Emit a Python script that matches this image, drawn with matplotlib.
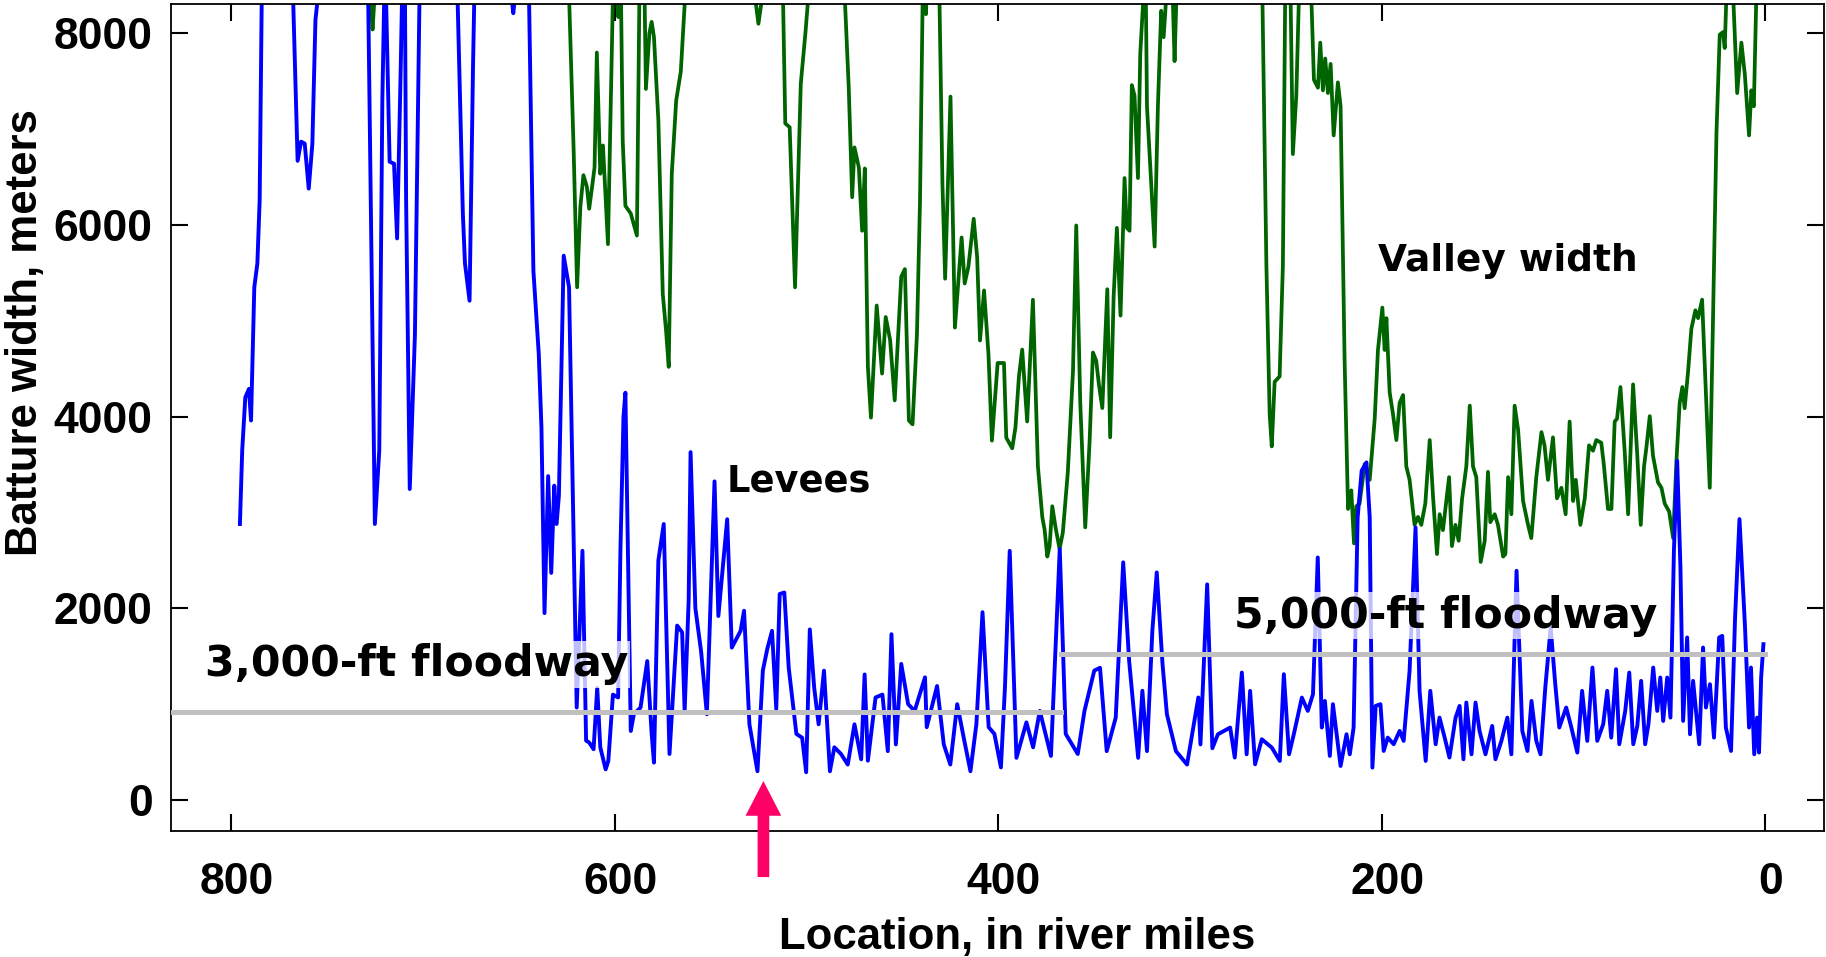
import matplotlib
matplotlib.use("Agg")
import matplotlib.pyplot as plt
from matplotlib.transforms import ScaledTranslation

plt.rcParams["font.family"] = ["Liberation Sans", "DejaVu Sans"]
plt.rcParams["font.weight"] = "bold"

# batture width between levees (blue), river miles vs meters; 9500 = off the top
levee_mile = [795.6, 794.4, 792.8, 790.9, 789.8, 788.1, 786.5, 785.3, 784.2, 783, 770, 767.9,
              765.5, 763.7, 761.8, 759.7, 757.8, 756.2, 754.8, 753, 731, 728.7, 725.2, 722.9,
              721.3, 720.3, 719.8, 719.4, 717.5, 715.2, 713.6, 711.7, 711, 710, 709.5, 708.9,
              707, 704.3, 701.9, 700, 684, 682.1, 679.3, 678.2, 675.8, 674, 673.3, 671, 655,
              654, 653, 652, 650, 646, 644.8, 642.5, 639.7, 638.3, 636.7, 634.8, 633.2, 631.6,
              630.4, 629.2, 626.7, 623.9, 619.9, 616.9, 615, 613.4, 611.1, 609.2, 607.6, 604.8,
              603.4, 601, 598.3, 597.1, 595.5, 594.5, 593.5, 591.7, 590.1, 586.6, 583.1, 580.8,
              579.6, 577.3, 574.5, 571.5, 567.5, 564.9, 563.6, 561.5, 560.5, 558, 555, 552,
              548, 546, 541.4, 539, 534.4, 532.6, 529.8, 525.6, 522.8, 520.5, 518, 515.8, 514,
              511.6, 509.3, 505.3, 502.3, 500.2, 498.3, 496, 493.7, 490.9, 487.8, 485.5, 482,
              478.5, 475, 471.5, 469.7, 468, 464, 460.4, 457.6, 455.7, 453.4, 450.6, 447,
              443.6, 438.2, 437.3, 431.9, 428.4, 425, 421.4, 418, 414.5, 411.4, 408.2, 405,
              402, 398.6, 396.5, 394, 390.5, 385.3, 381.8, 378.3, 372.5, 367.9, 364.8, 358.5,
              355, 349.9, 346.9, 343.4, 338.7, 334.8, 331.7, 327, 324.8, 322.4, 319.6, 317.3,
              314.3, 312, 307.3, 301.5, 295.6, 294.5, 291, 288.3, 285.4, 279, 276.6, 272.9,
              270.4, 268.6, 266, 262.5, 257.3, 253.1, 251, 248.3, 245.8, 241.6, 238.5, 235.8,
              233.3, 231.2, 229.6, 227, 225.4, 221.4, 218.3, 216.6, 214.6, 212.5, 210.4, 207.9,
              206.2, 204.8, 203.1, 200.6, 198.9, 196.8, 193.7, 190.6, 188.5, 185.4, 182.3,
              180.2, 177, 174.6, 171.8, 169.8, 167.1, 164.6, 161.4, 159.3, 157.3, 155.8, 153.1,
              151, 148.9, 145.8, 142.3, 140.6, 137.5, 134.4, 132.3, 129.6, 126.6, 123.9, 121.8,
              119.3, 117.1, 114.6, 111.8, 109.4, 107.3, 103.7, 101, 97.9, 95.4, 92.7, 90, 87.5,
              84.4, 82.3, 80.2, 77.7, 76, 72.9, 70.8, 68.7, 66.6, 64.6, 62.5, 60.8, 58.3, 56.2,
              54.6, 53.1, 51, 49.3, 47.5, 45.8, 44.1, 42.7, 40.6, 39.1, 37.5, 34.3, 32.3, 30.8,
              28.7, 26.6, 23.9, 22.3, 20.4, 17.7, 15.6, 13.3, 10.4, 8.3, 7.3, 5.6, 4.1, 3.1,
              2, 0.8]
levee_width = [2880, 3650, 4200, 4290, 3960, 5350, 5600, 6260, 8400, 9500, 9500, 8400,
               6670, 6870, 6850, 6380, 6850, 8140, 8400, 9500, 9500, 8400, 2880, 3650,
               7300, 8400, 9000, 8400, 6660, 6640, 5860, 7650, 8400, 9000, 8400, 6260,
               3245, 4860, 8400, 9500, 9500, 8400, 6120, 5600, 5210, 7650, 8400, 9500, 9500,
               8400, 8210, 8400, 9500, 9500, 8400, 5525, 4655, 3890, 1950, 3380, 2370, 3280,
               2880, 3175, 5680, 5350, 965, 2600, 620, 600, 530, 1170, 550, 320,
               410, 1100, 1070, 2600, 4000, 4250, 3000, 720, 895, 965, 1450, 690,
               390, 2500, 2880, 480, 1820, 1750, 930, 2080, 3630, 2000, 1550, 895,
               3325, 1920, 2930, 1590, 1765, 1975, 790, 300, 1350, 1575, 1765, 950, 2150,
               2165, 1380, 690, 650, 290, 1780, 1170, 790, 1350, 300, 550, 480,
               370, 790, 425, 1310, 410, 1070, 1100, 510, 1730, 580, 1420, 1000,
               930, 1280, 760, 1190, 580, 370, 1000, 650, 300, 790, 1960, 760,
               690, 340, 1170, 2600, 440, 810, 550, 930, 460, 2620, 690, 480,
               930, 1350, 1380, 510, 860, 2480, 1450, 440, 1140, 510, 1765, 2375,
               1420, 895, 510, 370, 1070, 580, 2250, 540, 686, 756, 443, 1330,
               477, 1139, 373, 634, 547, 408, 1313, 477, 686, 1069, 930, 1104,
               2531, 756, 1034, 460, 1000, 355, 686, 477, 756, 2949, 3436, 3523,
               2949, 338, 982, 1000, 512, 651, 582, 721, 617, 1348, 2844,
               1139, 408, 1139, 582, 860, 651, 443, 860, 982, 425, 1017, 477,
               1017, 721, 477, 773, 425, 617, 860, 477, 2392, 721, 512, 1034,
               617, 477, 1173, 1800, 1208, 756, 965, 756, 495, 1139, 617, 1382, 617,
               790, 1139, 651, 1365, 582, 930, 1330, 582, 773, 1243, 582, 790, 1382, 930,
               1278, 825, 1278, 860, 2601, 3540, 2427, 825, 1696, 686, 1243, 582, 1591, 965,
               1208, 651, 1696, 1713, 756, 512, 1905, 2931, 1800, 756, 1382, 477, 860, 495,
               1278, 1626]

# valley width (green)
valley_mile = [730, 727.5, 726.4, 725.3, 723, 626, 623.9, 621.5, 619.7, 618, 616.4, 614.6,
               613.4, 611.8, 610.6, 609.4, 607.6, 606.2, 603.6, 601, 599, 598.2, 596.8, 595.9,
               594.5, 591.7, 590, 588.5, 587.2, 586, 584.5, 583.8, 582, 580.8, 579.6, 577.3,
               575, 573.3, 571.9, 570.3, 568, 565.6, 563.3, 562, 530, 527, 525.1, 523, 521,
               513.5, 512.3, 511.1, 508.8, 506, 503, 500.6, 499, 497, 482, 480.1, 478, 476.2,
               475, 472.7, 471, 469.6, 468, 466.4, 463.4, 460.6, 458.7, 456.4, 454, 450.6,
               448.7, 446.6, 444.7, 442.4, 440.8, 439.4, 438.5, 437.7, 436.5, 432, 430.7,
               429.1, 427.7, 424.9, 422.6, 419.1, 417.5, 415.6, 412.8, 411, 409.5, 407.4,
               405.1, 403.3, 400.3, 397, 395.8, 392.7, 391, 389.2, 387.5, 384.9, 381.9, 379.3,
               377, 375.8, 374.4, 373.2, 371.8, 370.1, 368, 366.3, 363.7, 361, 359.3, 357.2,
               354.6, 352.3, 350.6, 348.9, 347.5, 345.7, 343.1, 341.6, 339.8, 338.1, 336.2,
               334.1, 332.9, 331.5, 330.3, 328.9, 327.1, 325.9, 324.2, 323.3, 322.4, 320.2,
               318.4, 316.7, 315, 313.7, 312.3, 311, 309, 308, 307, 305, 264, 262.2, 260.1,
               258.4, 257.3, 255.8, 253.2, 251.5, 250.3, 249, 247.5, 246.3, 244.5, 243.1, 241,
               238, 236.7, 235.3, 233.2, 232, 230.6, 229.4, 228, 226.6, 225, 222.8, 221.4,
               219.3, 217.5, 215.8, 214.4, 213.2, 211.5, 208.8, 206.2, 203.6, 201.9, 199.6,
               198.4, 197.5, 195.8, 194.1, 192.3, 190.6, 188.8, 187.1, 185.4, 182.8, 181,
               179.3, 177.2, 174.9, 173.2, 171.1, 169.7, 168, 164.8, 163.3, 161.5, 159.8, 158,
               155.8, 154, 152.3, 150.6, 148.3, 146.2, 144.5, 143.3, 141, 139.3, 136.6, 135.4,
               134, 132.3, 130.6, 128.8, 126.2, 123.6, 121.9, 119.3, 116.6, 115, 113.2, 110.6,
               108.5, 106.2, 104, 101.9, 100.1, 98.7, 96.3, 94, 91.8, 89.7, 88, 85.4, 84.1,
               81.9, 80.1, 78.4, 77.2, 75.4, 73.2, 71.4, 68.8, 66.6, 64.8, 63.1, 61.9, 60.1,
               58.4, 55.8, 54, 52.3, 50, 47.9, 46.2, 44.5, 43.1, 41.9, 40.1, 38.4, 36.3, 34.9,
               32.8, 31.4, 28.8, 27.1, 25.3, 23.6, 21.9, 21, 20.1, 19, 17.5, 16.6, 14.5, 12.3,
               10.5, 8.3, 7.1, 5.8, 4.5, 3, 0]
valley_width = [9500, 8400, 8040, 8400, 9500, 9500, 8400, 6780, 5350, 6190, 6520, 6400,
                6170, 6410, 6600, 7800, 6535, 6830, 5800, 8400, 8400, 8170, 8400, 6880,
                6200, 6120, 6000, 5890, 8400, 9000, 8400, 7420, 8000, 8120, 7960, 7090,
                5280, 4900, 4520, 6535, 7300, 7600, 8400, 9500, 9500, 8400, 8100, 8400, 9500,
                9500, 8400, 7060, 7020, 5350, 7475, 8000, 8400, 9500, 9500, 8400, 7440, 6290,
                6810, 6600, 5940, 6590, 4520, 3990, 5160, 4450, 5040, 4800, 4170, 5460,
                5540, 3960, 3920, 4860, 6260, 8400, 9000, 8200, 9000, 9500, 8400,
                6430, 5440, 7340, 4930, 5870, 5390, 5560, 6065, 5665, 4795, 5317,
                4655, 3750, 4560, 4560, 3780, 3670, 3890, 4420, 4700, 3950, 5220, 3480,
                2950, 2820, 2540, 2650, 3065, 2845, 2620, 2790, 3420, 4475, 5995, 4140,
                2845, 3756, 4670, 4585, 4340, 4090, 5330, 3785, 5250, 5970, 5055,
                6490, 5970, 5940, 7460, 7350, 6490, 7790, 8400, 9000, 7240, 6440,
                5775, 7240, 8235, 7960, 8400, 9200, 8400, 7710, 8400, 9500, 9500, 8400, 5580,
                4030, 3690, 4364, 4420, 5580, 8400, 9500, 8400, 6740, 7350, 8400, 9500,
                9500, 8400, 7516, 7433, 7903, 7405, 7737, 7377, 7681, 6935, 7488, 7239,
                4585, 3037, 3231, 2678, 3065, 3093, 3507, 3341, 3977, 4696, 5138,
                4696, 5028, 4254, 4033, 3756, 4143, 4226, 3480, 3341, 2871, 2954,
                2871, 3093, 3756, 3175, 2567, 2982, 2816, 3369, 2650, 2871, 2705, 3148,
                3480, 4115, 3480, 3369, 2484, 2705, 3424, 2899, 2982, 2871, 2540, 2567,
                3369, 2982, 4115, 3866, 3120, 2871, 2733, 3369, 3839, 3700, 3341, 3784,
                3148, 3258, 2982, 3949, 3120, 3341, 2871, 3148, 3701, 3645, 3756, 3728, 3507,
                3037, 3037, 3949, 3977, 4309, 3645, 2982, 4337, 3590, 2871, 3480, 3673, 4005,
                3590, 3314, 3258, 3093, 3010, 2733, 3535, 4143, 4309, 4088, 4475, 4917, 5110, 5028,
                5221, 4530, 3258, 5028, 6963, 7986, 8013, 7847, 8400, 9500, 9500, 8400, 7377, 7903,
                7571, 6935, 7405, 7239, 8400, 9500, 9500]

# 3,000 ft and 5,000 ft floodways, in meters
floodway_3000 = 914
floodway_5000 = 1524
floodway_split = 367
arrow_mile = 524

fig = plt.figure(figsize=(18.26, 9.57), dpi=100)
ax = fig.add_axes([0.0936, 0.1312, 0.9051, 0.8651])

ax.plot(valley_mile, valley_width, color="#006400", lw=2.7, zorder=2)
ax.plot(levee_mile, levee_width, color="#0000ff", lw=2.8, zorder=2.5)
ax.plot([831.6, floodway_split], [floodway_3000, floodway_3000], color="#c0c0c0", lw=3.6, zorder=2.6)
ax.plot([floodway_split, 0], [floodway_5000, floodway_5000], color="#c0c0c0", lw=3.6, zorder=2.6)

lbl = dict(family="DejaVu Sans", fontweight="bold", va="baseline", ha="left", zorder=4)
bb = dict(boxstyle="square,pad=0.05", fc="white", ec="none", alpha=0.75)
ax.text(814, 1290, "3,000-ft floodway", fontsize=30.7, bbox=bb, **lbl)
ax.text(277, 1800, "5,000-ft floodway", fontsize=30.7, bbox=bb, **lbl)
ax.text(541.5, 3220, "Levees", fontsize=26.5, **lbl)
ax.text(201.7, 5520, "Valley width", fontsize=27, **lbl)

ax.annotate("", xy=(arrow_mile - 1.5, 198), xytext=(arrow_mile - 1.5, -804),
            arrowprops=dict(width=8.4, headwidth=25.7, headlength=25, shrink=0,
                            color="#ff0066", lw=0),
            annotation_clip=False)

ax.set_xlim(831.6, -30.6)
ax.set_ylim(-328, 8311)
ax.set_xticks([800, 600, 400, 200, 0])
ax.set_yticks([0, 2000, 4000, 6000, 8000])
ax.tick_params(direction="in", length=12, width=1.5, top=True, right=True, labelsize=32)
ax.tick_params(axis="x", pad=22)
ax.tick_params(axis="y", pad=13)
shift = ScaledTranslation(4 / 72, 0, fig.dpi_scale_trans)
for t in ax.get_xticklabels():
    t.set_transform(t.get_transform() + shift)
for s in ax.spines.values():
    s.set_linewidth(1.3)

fig.text(0.5568, 0.0084, "Location, in river miles", fontsize=31.5, ha="center", va="baseline")
fig.text(0.0137, 0.653, "Batture width, meters", fontsize=31.5, rotation=90, ha="center", va="center")

fig.savefig("out.png", dpi=100, facecolor="white")
